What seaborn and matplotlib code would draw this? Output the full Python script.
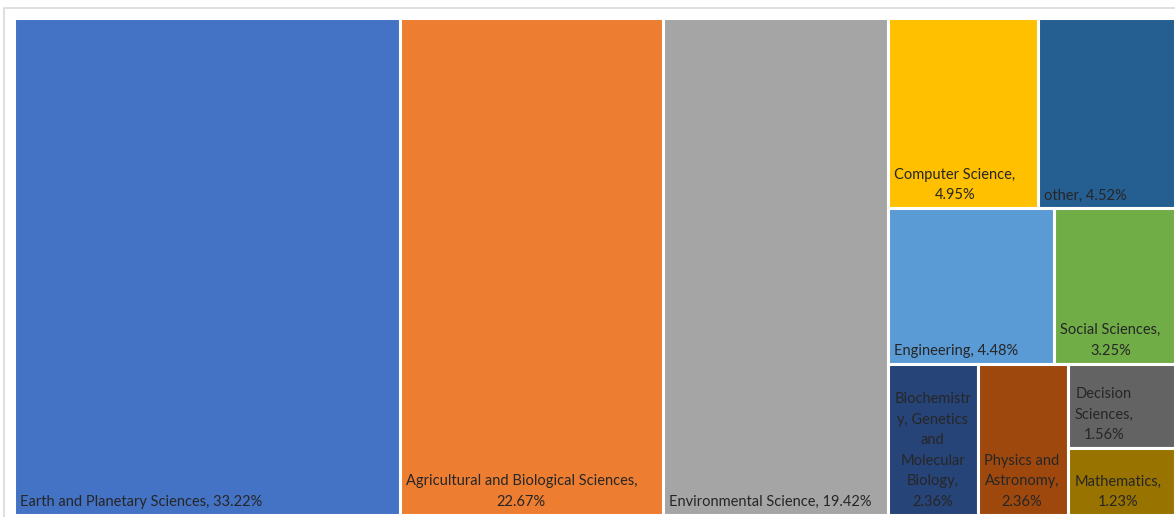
import matplotlib
matplotlib.use("Agg")
import matplotlib.pyplot as plt
import seaborn as sns
from matplotlib.patches import Rectangle

# data
names = ["Earth and Planetary Sciences", "Agricultural and Biological Sciences",
         "Environmental Science", "Computer Science", "other", "Engineering",
         "Social Sciences", "Biochemistr\ny, Genetics\nand\nMolecular\nBiology",
         "Physics and\nAstronomy", "Decision\nSciences", "Mathematics"]
shares = [33.22, 22.67, 19.42, 4.95, 4.52, 4.48, 3.25, 2.36, 2.36, 1.56, 1.23]
pct_sep = [" ", "\n", " ", "\n", " ", " ", "\n", "\n", "\n", "\n", "\n"]
colors = ["#4472C4", "#ED7D31", "#A5A5A5", "#FFC000", "#255E91", "#5B9BD5",
          "#70AD47", "#264478", "#9E480E", "#636363", "#997300"]


def worst(row, side):
    s = sum(row)
    return max(max(side ** 2 * r / s ** 2, s ** 2 / (side ** 2 * r)) for r in row)


def squarify(areas, x, y, w, h):
    # squarified treemap (Bruls et al.), y measured from the top
    rects = []
    areas = list(areas)
    while areas:
        side = min(w, h)
        row = [areas[0]]
        i = 1
        while i < len(areas) and worst(row + [areas[i]], side) <= worst(row, side):
            row.append(areas[i])
            i += 1
        areas = areas[i:]
        s = sum(row)
        if w >= h:
            cw = s / h
            yy = y
            for r in row:
                rects.append((x, yy, cw, r / cw))
                yy += r / cw
            x += cw
            w -= cw
        else:
            rh = s / w
            xx = x
            for r in row:
                rects.append((xx, y, r / rh, rh))
                xx += r / rh
            y += rh
            h -= rh
    return rects


sns.set_theme(style="white")
plt.rcParams["font.family"] = ["Lato", "DejaVu Sans"]

W, H = 1175, 517
fig = plt.figure(figsize=(W / 100, H / 100), dpi=100)
fig.patches.append(Rectangle((4 / W, -0.1), 1.2, 1.1 - 8 / H, transform=fig.transFigure,
                             fill=False, edgecolor="#d9d9d9", linewidth=1.2))

left, right, top, bottom = 14, 1175, 18, 515
ax = fig.add_axes([left / W, 1 - bottom / H, (right - left) / W, (bottom - top) / H])
aw, ah = right - left, bottom - top
total = sum(shares)
areas = [s / total * aw * ah for s in shares]
rects = squarify(areas, 0, 0, aw, ah)

xs = [r[0] for r in rects]
ys = [r[1] for r in rects]
ws = [r[2] for r in rects]
hs = [r[3] for r in rects]
ax.bar(xs, hs, width=ws, bottom=ys, align="edge", color=colors,
       edgecolor="white", linewidth=2.2)

for (rx, ry, rw, rh), name, val, sep in zip(rects, names, shares, pct_sep):
    ax.text(rx + 6, ry + rh - 6, f"{name},{sep}{val:.2f}%", ha="left", va="bottom",
            multialignment="center", fontsize=10.5, color="#262626", linespacing=1.6)

ax.set_xlim(0, aw)
ax.set_ylim(ah, 0)
ax.axis("off")

fig.savefig("out.png", dpi=100)
